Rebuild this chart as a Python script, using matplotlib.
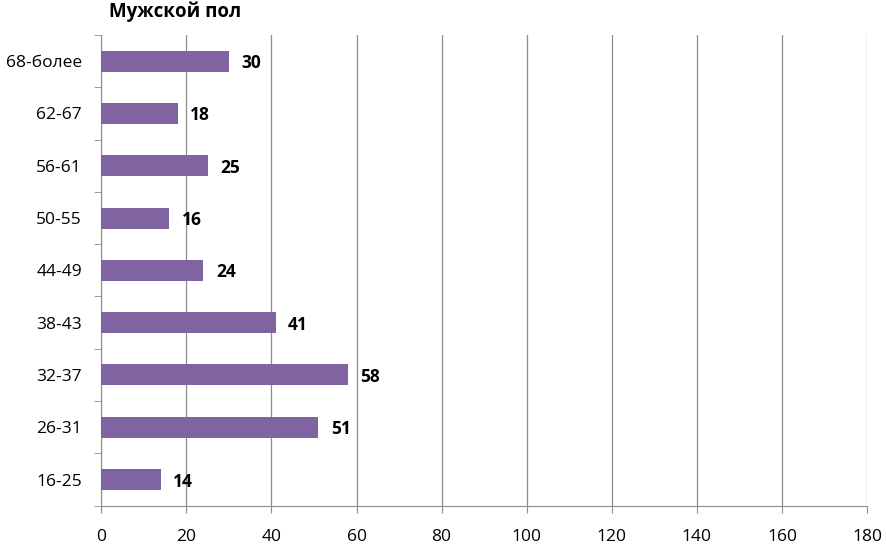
import matplotlib
matplotlib.use("Agg")
import matplotlib.pyplot as plt

categories = ["16-25", "26-31", "32-37", "38-43", "44-49", "50-55", "56-61", "62-67", "68-более"]
values = [14, 51, 58, 41, 24, 16, 25, 18, 30]
xticks = [0, 20, 40, 60, 80, 100, 120, 140, 160, 180]
title = "Мужской пол"

plt.rcParams['font.family'] = ['Open Sans', 'DejaVu Sans']
fig = plt.figure(figsize=(8.86, 5.45), dpi=100)
ax = fig.add_axes([0.1143, 0.0721, 0.8643, 0.8637])

gc = "#8c8c8c"
y = list(range(len(categories)))
ax.barh(y, values, height=0.40, color="#8064A2", zorder=3)
for yi, v in zip(y, values):
    ax.annotate(str(v), (v, yi), xytext=(9, 0), textcoords="offset points",
                va="center_baseline", ha="left", fontsize=12.5, fontweight="bold", color="black")

ax.set_xlim(0, 180)
ax.set_ylim(-0.5, len(categories) - 0.5)
ax.set_xticks(xticks)
ax.set_xticklabels([str(t) for t in xticks], fontsize=12.5)
ax.set_yticks(y)
ax.set_yticklabels(categories, fontsize=12.5)
ax.set_yticks([i - 0.5 for i in range(len(categories) + 1)], minor=True)
ax.tick_params(axis='y', which='major', length=0, pad=14)
ax.tick_params(axis='y', which='minor', length=5, color=gc, direction='out')
ax.tick_params(axis='x', length=5, color=gc, direction='out', pad=12)
ax.grid(axis='x', color=gc, linewidth=0.9, zorder=0)
for s in ['top', 'right']:
    ax.spines[s].set_visible(False)
ax.spines['left'].set_color(gc)
ax.spines['bottom'].set_color(gc)

fig.text(0.198, 0.978, title, ha="center", va="center", fontsize=13.5, fontweight="bold")
fig.savefig("out.png", dpi=100)
